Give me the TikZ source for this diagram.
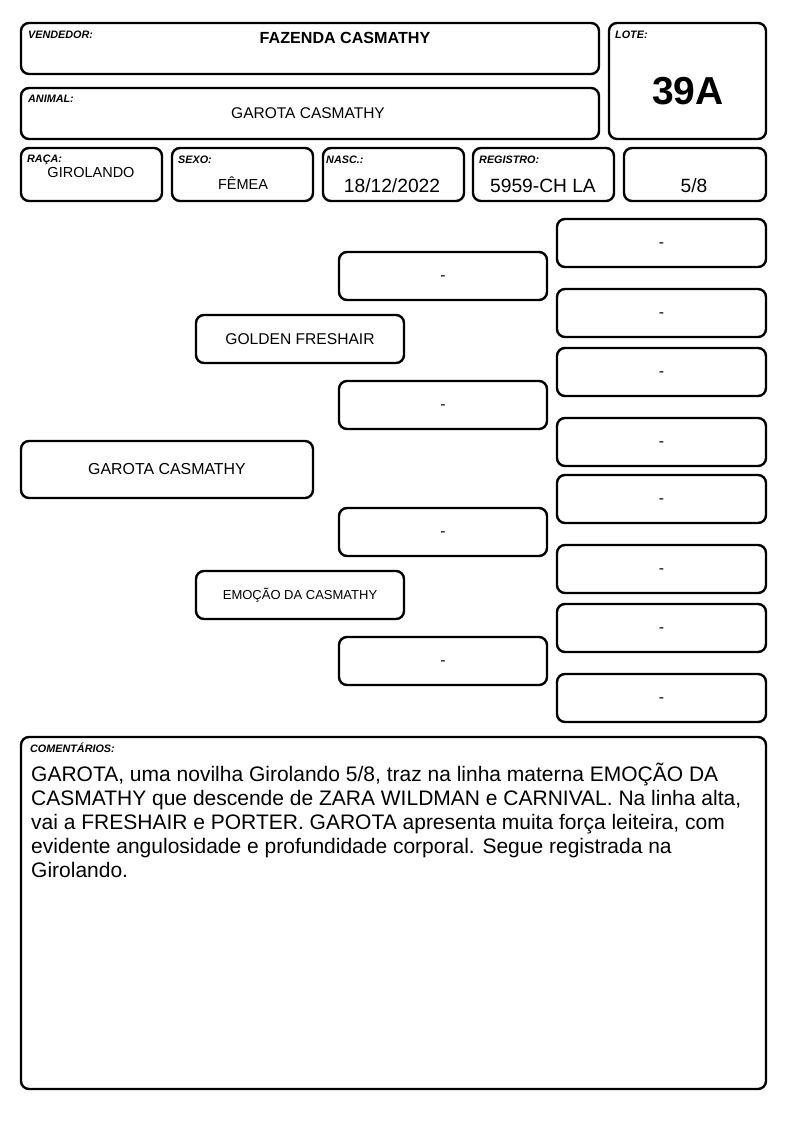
\documentclass[tikz,border=0pt]{standalone}
\usepackage{fontspec}
\setmainfont{Liberation Sans}
\begin{document}
\begin{tikzpicture}[x=1pt,y=-1pt,
  box/.style={draw, line width=2.4pt, rounded corners=8pt, inner sep=0pt},
  lbl/.style={anchor=base west, inner sep=0pt, font=\fontsize{10.8}{12}\selectfont\bfseries\itshape},
  val/.style={anchor=base, inner sep=0pt, font=\fontsize{14.5}{16}\selectfont},
  ped/.style={box, font=\fontsize{15.6}{17}\selectfont},
  dashbox/.style={ped, text height=9pt, text depth=0pt}]
\useasboundingbox[fill=white] (0,0) rectangle (794,1123);
% boxes: centre, width, height
\node[box, minimum width=578, minimum height=51] (vend) at (310,48.5) {};
\node[box, minimum width=157, minimum height=116] (lote) at (687.5,81) {};
\node[box, minimum width=578, minimum height=51] (anim) at (310,113.5) {};
\node[box, minimum width=141, minimum height=53] (raca) at (91.5,174.5) {};
\node[box, minimum width=141, minimum height=53] (sexo) at (242.5,174.5) {};
\node[box, minimum width=141, minimum height=53] (nasc) at (393.5,174.5) {};
\node[box, minimum width=141, minimum height=53] (regi) at (543.5,174.5) {};
\node[box, minimum width=142, minimum height=53] (grau) at (695,174.5) {};
% labels
\node[lbl] (lvend) at (28,39) {VENDEDOR:};
\node[lbl] (llote) at (615,39) {LOTE:};
\node[lbl] (lanim) at (28,103) {ANIMAL:};
\node[lbl] (lraca) at (27,163) {RAÇA:};
\node[lbl] (lsexo) at (178,164) {SEXO:};
\node[lbl] (lnasc) at (326,164) {NASC.:};
\node[lbl] (lregi) at (479,164) {REGISTRO:};
% values
\node[val, font=\fontsize{16.1}{18}\selectfont\bfseries] (tvend) at (345,43.5) {FAZENDA CASMATHY};
\node[val, font=\fontsize{39}{41}\selectfont\bfseries] (tlote) at (688,105) {39A};
\node[val, font=\fontsize{15.5}{17}\selectfont] (tanim) at (308,119) {GAROTA CASMATHY};
\node[val] (traca) at (91,177.5) {GIROLANDO};
\node[val] (tsexo) at (243,189.5) {FÊMEA};
\node[val, font=\fontsize{19.2}{21}\selectfont] (tnasc) at (392,193) {18/12/2022};
\node[val, font=\fontsize{19.2}{21}\selectfont] (tregi) at (543,193) {5959-CH LA};
\node[val, font=\fontsize{19.2}{21}\selectfont] (tgrau) at (694,193) {5/8};
% pedigree: right column
\foreach \n/\y in {r1/243,r2/313,r3/372,r4/442,r5/499,r6/569,r7/628,r8/698}
  \node[dashbox, minimum width=209, minimum height=48] (\n) at (661.5,\y) {-};
% middle column
\foreach \n/\y in {m1/276,m2/405,m3/532,m4/661}
  \node[dashbox, minimum width=208, minimum height=48] (\n) at (443,\y) {-};
% grandparents
\node[ped, minimum width=208, minimum height=48] (g1) at (300,339) {GOLDEN FRESHAIR};
\node[ped, minimum width=208, minimum height=48, font=\fontsize{13}{15}\selectfont] (g2) at (300,595) {EMOÇÃO DA CASMATHY};
% animal
\node[ped, minimum width=292, minimum height=57, font=\fontsize{15.9}{17}\selectfont] (an) at (167,469.5) {GAROTA CASMATHY};
% comments
\node[box, minimum width=745, minimum height=352] (com) at (393.5,913) {};
\node[lbl] (lcom) at (30,752.5) {COMENTÁRIOS:};
\node[anchor=north west, inner sep=0pt, align=left, font=\fontsize{21}{24}\selectfont] (tcom) at (31,762.5)
 {GAROTA, uma novilha Girolando 5/8, traz na linha materna EMOÇÃO DA\\
 CASMATHY que descende de ZARA WILDMAN e CARNIVAL. Na linha alta,\\
 vai a FRESHAIR e PORTER. GAROTA apresenta muita força leiteira, com\\
 evidente angulosidade e profundidade corporal. Segue registrada na\\
 Girolando.};
\end{tikzpicture}
\end{document}
